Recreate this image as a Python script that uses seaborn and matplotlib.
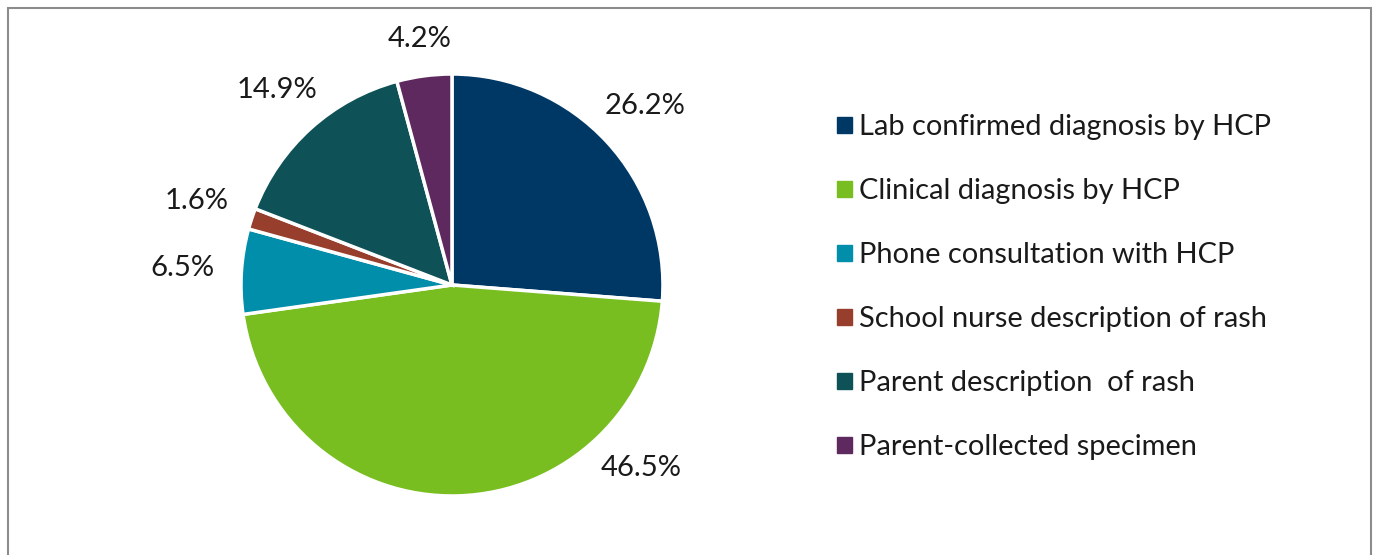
import matplotlib
matplotlib.use("Agg")
import matplotlib.pyplot as plt
import matplotlib.patches as mpatches
import seaborn as sns
import numpy as np

# -----------------------------------------
#  Data
# -----------------------------------------

CATEGORIES = [
    "Lab confirmed diagnosis by HCP",
    "Clinical diagnosis by HCP",
    "Phone consultation with HCP",
    "School nurse description of rash",
    "Parent description  of rash",
    "Parent-collected specimen",
]
SHARES = [26.2, 46.5, 6.5, 1.6, 14.9, 4.2]
COLORS = ["#003865", "#78BE21", "#008EAA", "#973F2C", "#0E5257", "#5D295F"]

# -----------------------------------------
#  Style
# -----------------------------------------

sns.set_theme(style="white")
plt.rcParams["font.family"] = ["Lato", "DejaVu Sans"]
plt.rcParams["text.color"] = "#1a1a1a"

fig = plt.figure(figsize=(13.74, 5.55), dpi=100)
fig.patch.set_facecolor("white")

# chart frame (bottom edge runs off the image)
frame = mpatches.Rectangle((8 / 1374, -0.05), (1371 - 8) / 1374, 1 - 8 / 555 + 0.05,
                           transform=fig.transFigure, fill=False,
                           edgecolor="#8c8c8c", linewidth=1.5)
fig.patches.append(frame)

ax = fig.add_axes([0.1754, 0.1063, 0.3071, 0.7604])
wedges, _texts = ax.pie(
    SHARES, colors=COLORS, startangle=90, counterclock=False,
    wedgeprops=dict(edgecolor="white", linewidth=2.5),
)
ax.set_xlim(-1, 1)
ax.set_ylim(-1, 1)
ax.set_aspect("equal")

# percentage labels outside each wedge ("best fit" style: the big
# slice's label is nudged toward the lower right like the original)
for w, val in zip(wedges, SHARES):
    mid = (w.theta1 + w.theta2) / 2
    if val == max(SHARES):
        mid = -44
    a = np.deg2rad(mid)
    r = 1.16 + 0.12 * abs(np.cos(a))
    ax.text(r * np.cos(a), r * np.sin(a), f"{val}%", ha="center", va="center",
            fontsize=21, clip_on=False)

handles = [mpatches.Patch(color=c, label=l) for l, c in zip(CATEGORIES, COLORS)]
fig.legend(handles=handles, loc="upper left", bbox_to_anchor=(0.601, 0.815),
           frameon=False, fontsize=20.9, handlelength=0.5, handleheight=0.5,
           handletextpad=0.25, labelspacing=1.31, borderaxespad=0)

fig.savefig("out.png", dpi=100, facecolor="white")
